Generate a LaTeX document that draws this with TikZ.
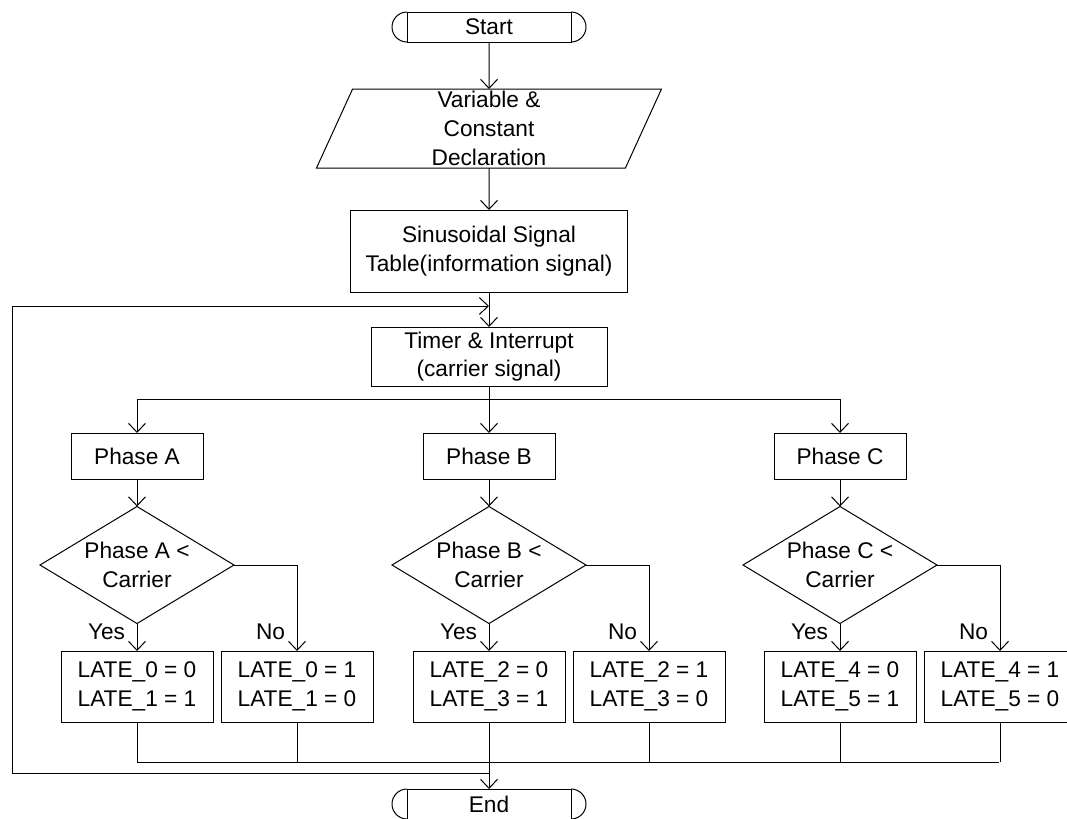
\documentclass[tikz,border=0pt]{standalone}
\usepackage{fontspec}
\setmainfont{Liberation Sans}
\usetikzlibrary{shapes.geometric,arrows.meta,positioning}

\begin{document}
\begin{tikzpicture}[
		x=0.75pt, y=-0.75pt,
		line width=0.75pt,
		every node/.style={font=\fontsize{17}{21.5}\selectfont, align=center, inner sep=0pt, outer sep=0pt},
		term/.style={draw, rectangle, minimum width=123pt, minimum height=22.5pt},
		io/.style={draw, trapezium, trapezium left angle=64, trapezium right angle=116,
			trapezium stretches body, minimum width=258.75pt, minimum height=59.25pt},
		phase/.style={draw, rectangle, minimum width=99pt, minimum height=34.5pt},
		test/.style={draw, diamond, aspect=1.66, minimum width=145.5pt, minimum height=87.75pt},
		late/.style={draw, rectangle, minimum width=114pt, minimum height=53.25pt},
		arr/.style={-{Straight Barb[length=6.75pt, width=12.75pt]}}
		]
		\useasboundingbox (0,0) rectangle (1067,818);

		\node[term] (start) at (489,27) {Start};
		\node[io] (decl) at (489,128.5) {Variable \&\\Constant\\Declaration};
		\node[draw, minimum width=207.75pt, minimum height=61.5pt] (table) at (489,251)
			{Sinusoidal Signal\\Table(information signal)};
		\node[draw, minimum width=177pt, minimum height=44.25pt] (timer) at (489,356.5)
			{Timer \& Interrupt\\(carrier signal)};
		\node[term] (stop) at (489,804) {End};

		\foreach \t in {start,stop}
			\draw (\t.north west) arc[start angle=90, end angle=270, radius=11.25pt]
				(\t.south east) arc[start angle=-90, end angle=90, radius=11.25pt];

		\coordinate (split) at (489,399);
		\coordinate (join) at (489,306);
		\coordinate (loop) at (12,306);
		\coordinate (back) at (489,773);
		\coordinate (mL) at (137,762);
		\coordinate (mR) at (999,762);

		\draw[arr] (start) -- (decl);
		\draw[arr] (decl) -- (table);
		\draw[arr] (table) -- (timer);
		\draw (timer) -- (split);

		\foreach \p/\x/\a/\b in {A/137/0/1, B/489/2/3, C/840/4/5} {
			\node[phase] (ph\p) at (\x,456) {Phase \p};
			\node[test] (cmp\p) at (\x,565) {Phase \p\ <\\Carrier};
			\node[late] (yes\p) at (\x,686.5) {LATE\_\a{} = 0\\LATE\_\b{} = 1};
			\node[late] (no\p) at (\x+160,686.5) {LATE\_\a{} = 1\\LATE\_\b{} = 0};
			\draw[arr] (split) -| (ph\p.north);
			\draw[arr] (ph\p) -- (cmp\p);
			\draw[arr] (cmp\p) -- node[pos=0.32, left=9pt] {Yes} (yes\p);
			\draw[arr] (cmp\p.east) -| node[pos=0.89, left=9pt] {No} (no\p.north);
			\draw (yes\p) -- (yes\p |- mL);
			\draw (no\p) -- (no\p |- mL);
		}

		\draw (mL) -- (mR);
		\draw[arr] (yesB) -- (stop);
		\draw[arr] (back) -| (loop) -- (join);
\end{tikzpicture}
\end{document}
